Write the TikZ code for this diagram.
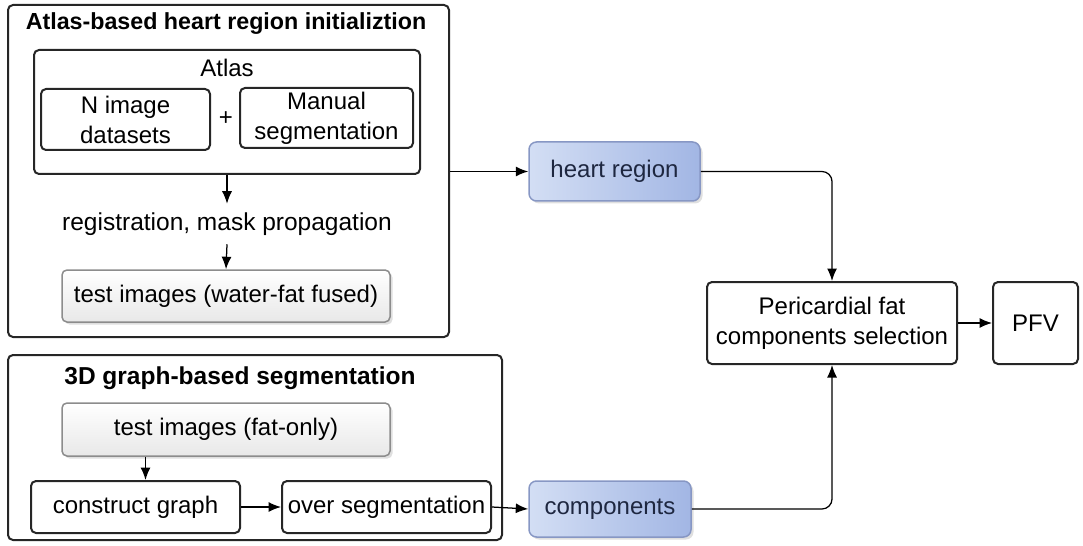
\documentclass[tikz,border=0pt]{standalone}
\usepackage{fontspec}
\setmainfont{Liberation Sans}
\usetikzlibrary{fit,shadows,arrows.meta}
\definecolor{bluelight}{HTML}{D3DEF4}
\definecolor{bluedark}{HTML}{A2B6E4}
\definecolor{blueedge}{HTML}{8797C4}
\definecolor{bluetext}{HTML}{1E2740}
\begin{document}
\begin{tikzpicture}[x=0.4pt,y=-0.4pt,font=\fontsize{9.6}{12}\selectfont]
		\tikzstyle frame_style=[draw=black!85,line width=0.8pt,rounded corners=2pt,inner sep=0pt];
		\tikzstyle gray_style=[frame_style,draw=black!45,line width=0.6pt,top color=white,bottom color=gray!18,
			drop shadow={shadow xshift=1pt,shadow yshift=-1pt,opacity=0.25}];
		\tikzstyle blue_style=[draw=blueedge,line width=0.6pt,rounded corners=3pt,inner sep=0pt,
			left color=bluelight,right color=bluedark,
			drop shadow={shadow xshift=1pt,shadow yshift=-1pt,opacity=0.25}];
		\tikzstyle arrow_style=[-{Latex[length=5pt,width=4pt]},line width=0.5pt];
		\useasboundingbox (0,0) rectangle (1083,545);

		% ATLAS PART
		\node[frame_style, fit={(8,5) (449,337)}] (atlasframe) {};
		\node[font=\fontsize{9.3}{12}\selectfont\bfseries] (atlastitle) at (226,24) {Atlas-based heart region initializtion};
		\node[frame_style, fit={(34,50) (420,174)}] (atlasbox) {};
		\node (atlaslabel) at (227,68) {Atlas};
		\node[frame_style, fit={(41,89) (210,150)}] (nimages) {};
		\node[align=center] at (nimages.center) {N image\\datasets};
		\node (plus) at (226,119) {+};
		\node[frame_style, fit={(240,88) (413,148)}] (manual) {};
		\node[align=center] at (manual.center) {Manual\\segmentation};
		\node[font=\fontsize{9.8}{12}\selectfont] (registration) at (227,224) {registration, mask propagation};
		\node[gray_style, fit={(62,270) (390,322)}] (waterfat) {};
		\node at (waterfat.center) {test images (water-fat fused)};

		\draw[arrow_style] (atlasbox.south) -- (registration.north);
		\draw[arrow_style] (registration.south) -- (waterfat.north);

		% GRAPH PART
		\node[frame_style, fit={(8,355) (502,540)}] (graphframe) {};
		\node[font=\fontsize{9.8}{12}\selectfont\bfseries] (graphtitle) at (240,378) {3D graph-based segmentation};
		\node[gray_style, fit={(62,403) (390,456)}] (fatonly) {};
		\node at (fatonly.center) {test images (fat-only)};
		\node[frame_style, fit={(31,481) (240,533)}] (construct) {};
		\node at (construct.center) {construct graph};
		\node[frame_style, fit={(282,481) (491,533)}] (overseg) {};
		\node at (overseg.center) {over segmentation};

		\draw[arrow_style] ([xshift=4pt]construct.north |- fatonly.south) -- ([xshift=4pt]construct.north);
		\draw[arrow_style] (construct.east) -- (overseg.west);

		% RIGHT SIDE
		\node[blue_style, fit={(529,142) (700,201)}] (heart) {};
		\node[text=bluetext] at (heart.center) {heart region};
		\node[blue_style, fit={(529,481) (691,537)}] (components) {};
		\node[text=bluetext] at (components.center) {components};
		\node[frame_style, fit={(707,282) (957,364)}] (pericardial) {};
		\node[align=center] at (pericardial.center) {Pericardial fat\\components selection};
		\node[frame_style, fit={(993,282) (1078,364)}] (pfv) {};
		\node at (pfv.center) {PFV};

		\draw[arrow_style] (heart.west -| atlasframe.east) -- (heart.west);
		\draw[arrow_style] (overseg.east) -- (components.west);
		\draw[arrow_style,rounded corners=4pt] (heart.east) -| (pericardial.north);
		\draw[arrow_style,rounded corners=4pt] (components.east) -| (pericardial.south);
		\draw[arrow_style] (pericardial.east) -- (pfv.west);
\end{tikzpicture}
\end{document}
